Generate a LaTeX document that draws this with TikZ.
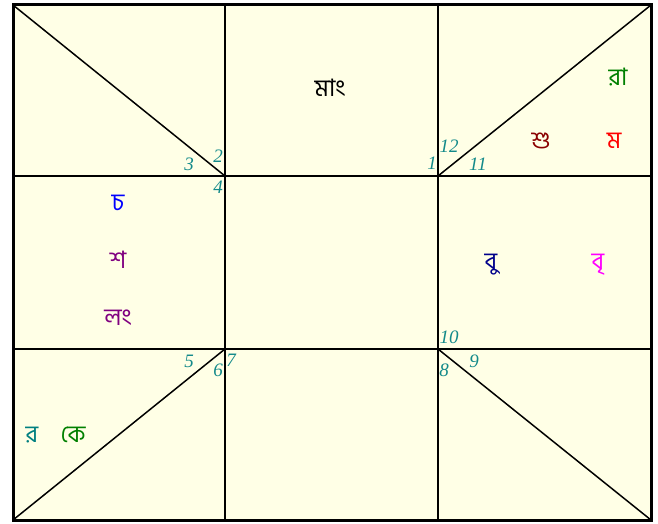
\documentclass[tikz,border=0pt]{standalone}
\usepackage{fontspec}
\setmainfont{Liberation Serif}
\newfontfamily\bnfont[Script=Bengali]{Hind Siliguri}
\definecolor{chartbg}{HTML}{FFFFE6}
\definecolor{numcol}{HTML}{138A8A}
\definecolor{darkred}{HTML}{8B0000}
\definecolor{navyc}{HTML}{00008B}
\definecolor{purplec}{HTML}{800080}
\definecolor{greenc}{HTML}{008000}
\definecolor{tealc}{HTML}{008080}
\definecolor{magentac}{HTML}{FF00FF}
\definecolor{redc}{HTML}{FF0000}
\definecolor{bluec}{HTML}{0000FF}
\tikzset{
  num/.style={font=\fontsize{19}{19}\selectfont\itshape, text=numcol, inner sep=0pt},
  planet/.style={font=\bnfont\fontsize{24}{24}\selectfont, inner sep=0pt},
  gridline/.style={line width=1.5pt, black},
  frameline/.style={line width=3pt, black}
}
\begin{document}
\begin{tikzpicture}[x=1pt,y=-1pt]
\useasboundingbox (0,0) rectangle (658,524);
\fill[white] (0,0) rectangle (658,524);
% corners and grid points
\coordinate (tl) at (13,5);
\coordinate (tr) at (651,5);
\coordinate (bl) at (13,520);
\coordinate (br) at (651,520);
\coordinate (t1) at (225,5);
\coordinate (t2) at (438,5);
\coordinate (b1) at (225,520);
\coordinate (b2) at (438,520);
\coordinate (l1) at (13,176);
\coordinate (l2) at (13,349);
\coordinate (r1) at (651,176);
\coordinate (r2) at (651,349);
\coordinate (c11) at (225,176);
\coordinate (c12) at (438,176);
\coordinate (c21) at (225,349);
\coordinate (c22) at (438,349);
\fill[chartbg] (tl) rectangle (br);
\draw[gridline] (t1) -- (b1);
\draw[gridline] (t2) -- (b2);
\draw[gridline] (l1) -- (r1);
\draw[gridline] (l2) -- (r2);
\draw[gridline] (tl) -- (c11);
\draw[gridline] (tr) -- (c12);
\draw[gridline] (bl) -- (c21);
\draw[gridline] (br) -- (c22);
\draw[frameline] (tl) rectangle (br);
% house numbers
\node[num] (n2) at (218,156) {2};
\node[num] (n3) at (189,164) {3};
\node[num] (n4) at (218,187) {4};
\node[num] (n12) at (449,146) {12};
\node[num] (n1) at (432,163) {1};
\node[num] (n11) at (478,164) {11};
\node[num] (n10) at (449,337) {10};
\node[num] (n8) at (444,370) {8};
\node[num] (n9) at (474,361) {9};
\node[num] (n5) at (189,361) {5};
\node[num] (n6) at (218,370) {6};
\node[num] (n7) at (231,360) {7};
% planets
\node[planet, text=black] (mang) at (330,88) {মাং};
\node[planet, text=greenc] (ra) at (618,77) {রা};
\node[planet, text=darkred] (shu) at (541,141) {শু};
\node[planet, text=redc] (ma) at (614,141) {ম};
\node[planet, text=bluec] (cha) at (118,203) {চ};
\node[planet, text=purplec] (sha) at (118,260) {শ};
\node[planet, text=purplec] (lang) at (118,318) {লং};
\node[planet, text=navyc] (bu) at (491,265) {বু};
\node[planet, text=magentac] (bri) at (598,265) {বৃ};
\node[planet, text=tealc] (ra2) at (32,435) {র};
\node[planet, text=greenc] (ke) at (73,435) {কে};
\end{tikzpicture}
\end{document}
